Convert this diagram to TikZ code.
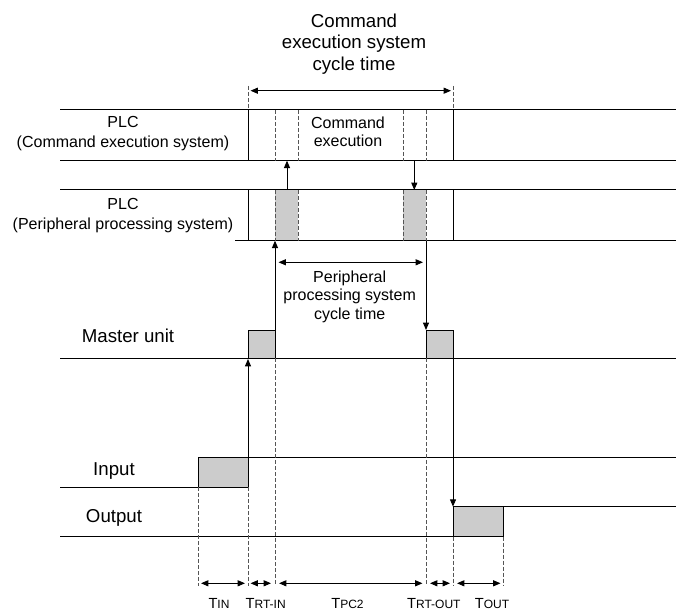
\documentclass[tikz,border=0pt]{standalone}
\usepackage{fontspec}
\setmainfont{Liberation Sans}
\usepackage{tikz}
\usetikzlibrary{arrows.meta,positioning}
\definecolor{pulsegray}{HTML}{CCCCCC}
\definecolor{guidegray}{HTML}{555555}

\newcommand{\tlabel}[1]{{\fontsize{11}{12}\selectfont T}{\fontsize{9}{10}\selectfont #1}}

\begin{document}
\begin{tikzpicture}[
    x=0.75pt,
    y=-0.75pt,
    level/.style={
        draw=black,
        line width=0.75pt
    },
    pulse/.style={
        draw=black,
        line width=0.75pt,
        fill=pulsegray
    },
    guide/.style={
        draw=guidegray,
        line width=0.6pt,
        dash pattern=on 3pt off 1.5pt
    },
    arrow/.style={
        -{Triangle[length=5.5pt,width=4.5pt]},
        line width=0.7pt
    },
    dimarrow/.style={
        {Triangle[length=5.5pt,width=4.5pt]}-{Triangle[length=5.5pt,width=4.5pt]},
        line width=0.7pt
    },
    heading/.style={
        align=center,
        font=\fontsize{14}{16}\selectfont
    },
    lane/.style={
        align=center,
        font=\fontsize{12}{15}\selectfont
    },
    note/.style={
        align=center,
        font=\fontsize{12}{13.75}\selectfont
    },
    sig/.style={
        anchor=base,
        font=\fontsize{14}{17}\selectfont
    },
    timing/.style={
        anchor=base
    }
]

\useasboundingbox (0,0) rectangle (676,610);

% PLC bands
\fill[pulsegray] (275,190) rectangle (298,240.7);
\fill[pulsegray] (403,190) rectangle (426,240.7);

\draw[level] (60,110) -- (676,110);
\draw[level] (60,160.7) -- (676,160.7);
\draw[level] (60,190) -- (676,190);
\draw[level] (235,240.7) -- (676,240.7);

\foreach \x in {248,453}
    \draw[level, line width=0.6pt] (\x,110) -- (\x,160.7) (\x,190) -- (\x,240.7);

\foreach \x in {275,298,403,426}
    \draw[guide] (\x,110) -- (\x,160.7) (\x,190) -- (\x,240.7);

\node[lane] (plccmd) at (123,134)
{PLC\\(Command execution system)};

\node[lane] (plcper) at (123,216)
{PLC\\(Peripheral processing system)};

\node[note] (cmdexec) at (348,131.7)
{Command\\execution};

% Command execution system cycle time
\draw[guide] (248,86) -- (248,110) (453,86) -- (453,110);

\node[heading] (cmdcycle) at (354,44)
{Command\\execution system\\cycle time};

\coordinate (cmdstart) at (250.5,90.7);
\coordinate (cmdend) at (451,90.7);
\draw[dimarrow] (cmdstart) -- (cmdend);

% Master unit
\draw[level] (60,358.3) -- (676,358.3);
\filldraw[pulse] (248,358.3) rectangle (275,330);
\filldraw[pulse] (426,358.3) rectangle (453,330);

\node[sig] (master) at (128,342.7) {Master unit};

% Peripheral processing system cycle time
\coordinate (perstart) at (278.5,262.3);
\coordinate (perend) at (423,262.3);
\draw[dimarrow] (perstart) -- (perend);

\node[note] (percycle) at (349.7,296.8)
{Peripheral\\processing system\\cycle time};

% Input and output
\draw[level] (60,487.3) -- (198,487.3);
\filldraw[pulse] (198,487.3) rectangle (248,457.7);
\draw[level] (248,457.7) -- (676,457.7);

\draw[level] (60,536.7) -- (453,536.7);
\filldraw[pulse] (453,536.7) rectangle (503.5,506.7);
\draw[level] (503.5,506.7) -- (676,506.7);

\node[sig] (input) at (114,475.7) {Input};
\node[sig] (output) at (114,522.7) {Output};

% Transfers
\coordinate (inrise) at (248,457.7);
\coordinate (mastin) at (248,359);
\coordinate (mastup) at (275,330);
\coordinate (perbot) at (275,240.7);
\coordinate (perup) at (287,190);
\coordinate (cmdbot) at (287,160.7);
\coordinate (cmddown) at (414.3,160.7);
\coordinate (pertop) at (414.3,190);
\coordinate (perdown) at (426,240.7);
\coordinate (masttop) at (426,330);
\coordinate (mastout) at (453,358.3);
\coordinate (outrise) at (453,506.7);

\draw[arrow] (inrise) -- (mastin);
\draw[arrow] (mastup) -- (perbot);
\draw[arrow] (perup) -- (cmdbot);
\draw[arrow] (cmddown) -- (pertop);
\draw[arrow] (perdown) -- (masttop);
\draw[arrow] (mastout) -- (outrise);

% Timing guides
\draw[guide] (198,487.3) -- (198,586) (248,487.3) -- (248,586);
\draw[guide] (275,358.3) -- (275,586) (426,358.3) -- (426,586);
\draw[guide] (453,536.7) -- (453,586) (503.5,536.7) -- (503.5,586);

\foreach \a/\b [count=\i] in {201/245,250.5/271,279/422.5,430/450,457/500.5} {
    \coordinate (d\i a) at (\a,583.3);
    \coordinate (d\i b) at (\b,583.3);
    \draw[dimarrow] (d\i a) -- (d\i b);
}

\node[timing] (tin) at (219,608.5) {\tlabel{IN}};
\node[timing] (trtin) at (265.7,608.5) {\tlabel{RT-IN}};
\node[timing] (tpc) at (347.5,608.5) {\tlabel{PC2}};
\node[timing] (trtout) at (433.8,608.5) {\tlabel{RT-OUT}};
\node[timing] (tout) at (492,608.5) {\tlabel{OUT}};

\end{tikzpicture}
\end{document}
